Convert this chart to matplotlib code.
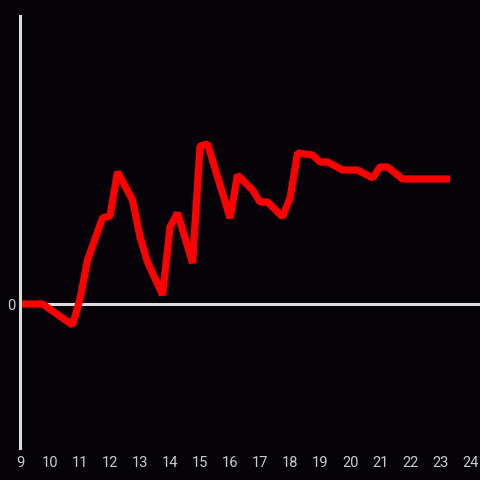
import matplotlib.pyplot as plt

hours = [9.0, 9.75, 10.75, 11.0, 11.25, 11.75, 12.0, 12.25, 12.75, 13.0, 13.25,
         13.75, 14.0, 14.25, 14.75, 15.0, 15.25, 16.0, 16.25, 16.75, 17.0, 17.25,
         17.75, 18.0, 18.25, 18.75, 19.0, 19.25, 19.75, 20.25, 20.75, 21.0, 21.25,
         21.75, 23.33]
values = [0.0, 0.0, -2.1, 0.5, 4.4, 8.6, 8.8, 13.2, 10.4, 6.7, 4.2,
          0.9, 7.7, 9.1, 4.1, 15.8, 16.0, 8.6, 12.9, 11.4, 10.2, 10.2,
          8.7, 10.6, 15.1, 14.9, 14.2, 14.2, 13.4, 13.4, 12.6, 13.7, 13.7,
          12.5, 12.5]
xticks = list(range(9, 25))

bg = '#050308'
fg = '#dddddd'

fig = plt.figure(figsize=(4.8, 4.8), dpi=100, facecolor=bg)
ax = fig.add_axes([20 / 480, 32 / 480, 460 / 480, 432 / 480], facecolor=bg)

ax.axhline(0, color=fg, lw=2.2, zorder=1)
ax.plot(hours, values, color='#ff0000', lw=5.2, solid_joinstyle='bevel',
        solid_capstyle='butt', zorder=2)

ax.set_xlim(9, 24.33)
ax.set_ylim(-14.4, 28.8)
ax.set_xticks(xticks)
ax.set_xticklabels([str(t) for t in xticks])
ax.set_yticks([0])
ax.set_yticklabels(['0'])
ax.tick_params(length=0, colors='#cccccc', labelsize=10.5, pad=6)
ax.tick_params(axis='y', pad=3)
for lab in ax.get_xticklabels() + ax.get_yticklabels():
    lab.set_family('Roboto')

for side in ['top', 'right', 'bottom']:
    ax.spines[side].set_visible(False)
ax.spines['left'].set_color(fg)
ax.spines['left'].set_linewidth(2.2)

fig.savefig('out.png', dpi=100, facecolor=bg)
